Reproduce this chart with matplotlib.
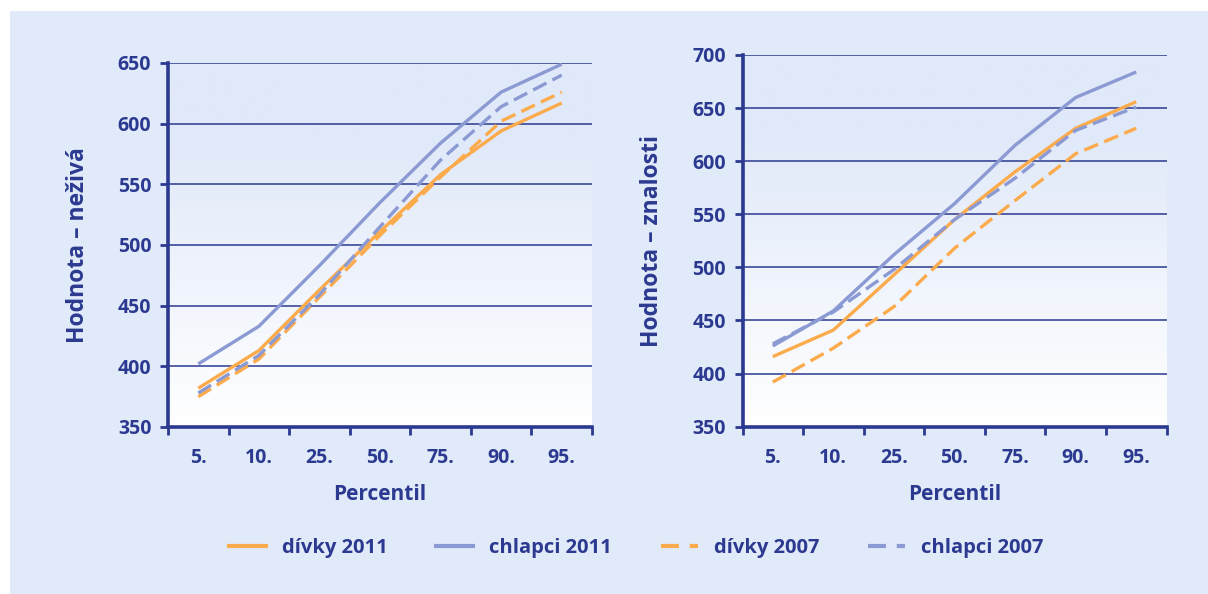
import numpy as np
import matplotlib
matplotlib.use("Agg")
import matplotlib.pyplot as plt
from matplotlib.patches import Rectangle
from matplotlib.lines import Line2D

plt.rcParams['font.family'] = ['Open Sans', 'DejaVu Sans']
plt.rcParams['font.weight'] = 'bold'
plt.rcParams['axes.labelweight'] = 'bold'

percentiles = ['5.', '10.', '25.', '50.', '75.', '90.', '95.']

# left chart: Hodnota - neživá
nez_divky_2011 = [382, 413, 463, 511, 558, 594, 617]
nez_chlapci_2011 = [402, 433, 483, 535, 584, 626, 649]
nez_divky_2007 = [375, 406, 457, 508, 556, 602, 626]
nez_chlapci_2007 = [378, 409, 459, 515, 570, 614, 640]

# right chart: Hodnota - znalosti
zna_divky_2011 = [416, 441, 493, 545, 590, 631, 656]
zna_chlapci_2011 = [426, 459, 512, 560, 615, 660, 684]
zna_divky_2007 = [392, 424, 463, 518, 563, 607, 631]
zna_chlapci_2007 = [428, 458, 498, 545, 584, 629, 651]

navy = '#2b3990'
orange = '#fbab4c'
blue = '#8b9ad2'
panel = '#e0eaf8'

fig = plt.figure(figsize=(12.08, 5.94), dpi=100)
fig.patch.set_facecolor('white')
fig.patches.append(Rectangle((10 / 1208, 0), 1, 1 - 11 / 594, transform=fig.transFigure,
                             facecolor=panel, edgecolor='none', zorder=-10))


def draw(ax, series, ylim, ylabel):
    # gradient background: light blue on top, white at the bottom
    grad = np.linspace(0, 1, 256).reshape(-1, 1)
    top = np.array(matplotlib.colors.to_rgb('#e0e9f9'))
    bot = np.array([1.0, 1.0, 1.0])
    w = np.clip(grad * 1.25, 0, 1)
    img = bot + (top - bot) * w
    img = img.reshape(256, 1, 3)
    ax.imshow(img, extent=[0, 1, 0, 1], transform=ax.transAxes, aspect='auto',
              origin='lower', zorder=0)
    ax.set_facecolor('white')

    x = np.arange(1, len(percentiles) + 1)
    styles = [(orange, '-'), (blue, '-'), (orange, '--'), (blue, '--')]
    for vals, (c, ls) in zip(series, styles):
        line, = ax.plot(x, vals, color=c, lw=2.4, zorder=3, solid_capstyle='butt')
        if ls == '--':
            line.set_dashes((4.5, 2.0))

    ax.set_xlim(0.5, len(percentiles) + 0.5)
    ax.set_ylim(*ylim)
    ax.set_yticks(np.arange(ylim[0], ylim[1] + 1, 50))
    ax.yaxis.grid(True, color=navy, lw=1.1, zorder=1)
    ax.set_axisbelow(False)
    for gl in ax.get_ygridlines():
        gl.set_zorder(1)

    ax.set_xticks(np.arange(0.5, len(percentiles) + 1, 1))
    ax.set_xticklabels([])
    ax.set_xticks(x, minor=True)
    ax.set_xticklabels(percentiles, minor=True)
    ax.tick_params(axis='x', which='major', length=6, width=2, color=navy, direction='out')
    ax.tick_params(axis='x', which='minor', length=0, pad=15, labelsize=14, labelcolor=navy)
    ax.tick_params(axis='y', length=6, width=2, color=navy, pad=6, labelsize=14, labelcolor=navy)

    for s in ['top', 'right']:
        ax.spines[s].set_visible(False)
    for s in ['left', 'bottom']:
        ax.spines[s].set_color(navy)
        ax.spines[s].set_linewidth(2.6)
        ax.spines[s].set_zorder(4)

    ax.set_xlabel('Percentil', fontsize=15, color=navy, fontweight='bold', labelpad=12)
    ax.set_ylabel(ylabel, fontsize=16.5, color=navy, fontweight='bold', labelpad=20)


ax1 = fig.add_axes([168 / 1208, 1 - 427 / 594, 424 / 1208, 364 / 594])
draw(ax1, [nez_divky_2011, nez_chlapci_2011, nez_divky_2007, nez_chlapci_2007],
     (350, 650), 'Hodnota – neživá')

ax2 = fig.add_axes([742.5 / 1208, 1 - 426.7 / 594, 424 / 1208, 371.7 / 594])
draw(ax2, [zna_divky_2011, zna_chlapci_2011, zna_divky_2007, zna_chlapci_2007],
     (350, 700), 'Hodnota – znalosti')

labels = ['dívky 2011', 'chlapci 2011', 'dívky 2007', 'chlapci 2007']
handles = [Line2D([], [], color=orange, lw=3),
           Line2D([], [], color=blue, lw=3),
           Line2D([], [], color=orange, lw=3, dashes=(4.3, 2.6)),
           Line2D([], [], color=blue, lw=3, dashes=(4.3, 2.6))]
fig.legend(handles, labels, loc='center', bbox_to_anchor=(636 / 1208, 1 - 548 / 594),
           ncol=4, frameon=False, handlelength=1.85, handletextpad=0.8,
           columnspacing=2.4, labelcolor=navy, prop={'weight': 'bold', 'size': 14.5})

fig.savefig('out.png', dpi=100, facecolor=fig.get_facecolor())
